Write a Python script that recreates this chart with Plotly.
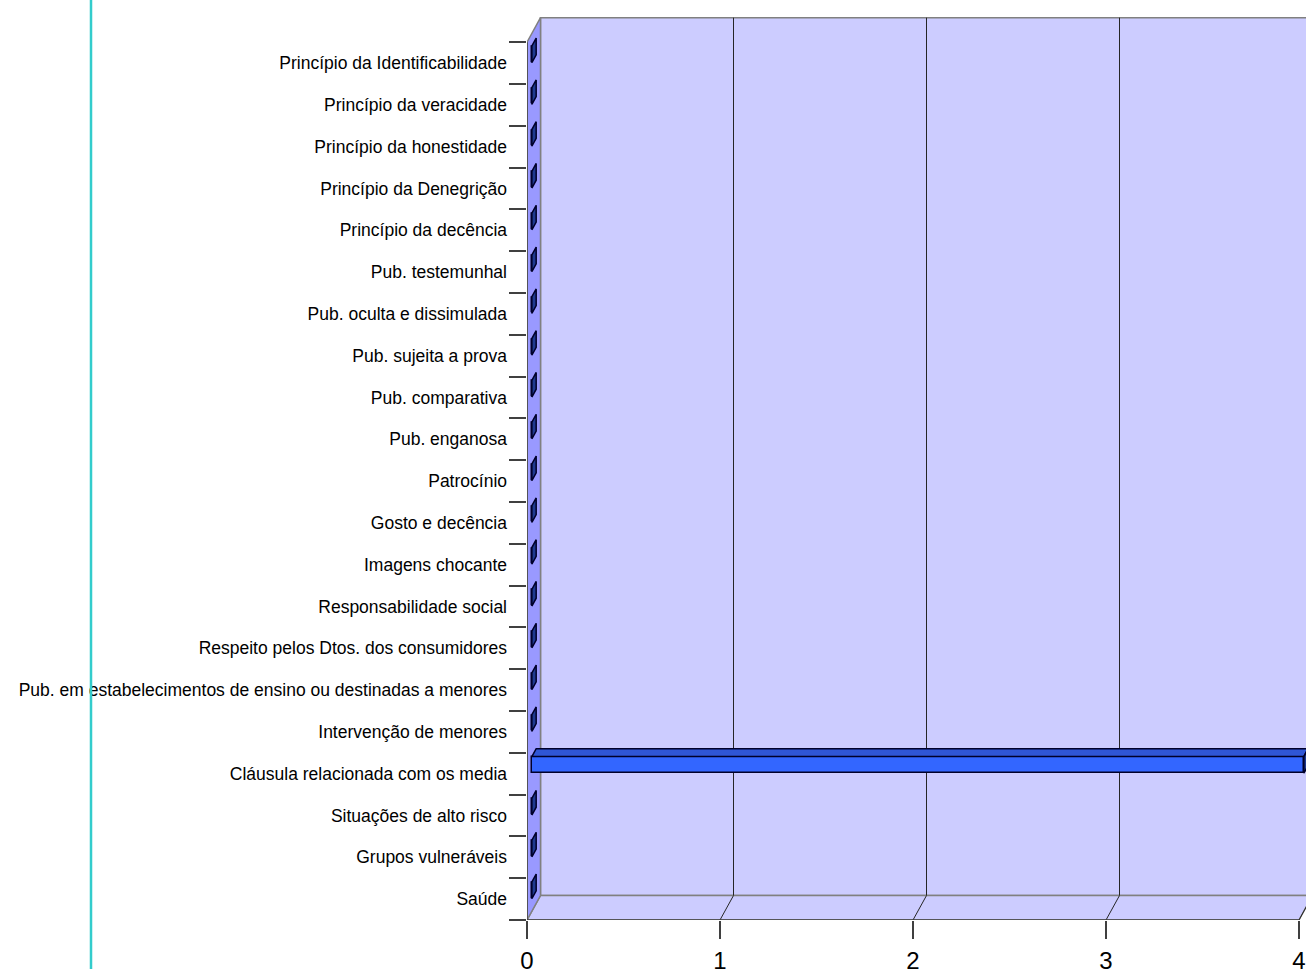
import plotly.graph_objects as go

# ---------------- data ----------------
categories = [
    "Saúde",
    "Grupos vulneráveis",
    "Situações de alto risco",
    "Cláusula relacionada com os media",
    "Intervenção de menores",
    "Pub. em estabelecimentos de ensino ou destinadas a menores",
    "Respeito pelos Dtos. dos consumidores",
    "Responsabilidade social",
    "Imagens chocante",
    "Gosto e decência",
    "Patrocínio",
    "Pub. enganosa",
    "Pub. comparativa",
    "Pub. sujeita a prova",
    "Pub. oculta e dissimulada",
    "Pub. testemunhal",
    "Princípio da decência",
    "Princípio da Denegrição",
    "Princípio da honestidade",
    "Princípio da veracidade",
    "Princípio da Identificabilidade",
]
values = [0, 0, 0, 4, 0, 0, 0, 0, 0, 0, 0, 0, 0, 0, 0, 0, 0, 0, 0, 0, 0]
x_ticks = [0, 1, 2, 3, 4]

# ---------------- geometry / style ----------------
W, H = 1306, 969
ML, MR, MT, MB = 527, 0, 0, 49
UX = 193.0          # px per value unit
UY = 41.8           # px per category
PW = W - ML - MR
PH = H - MT - MB
XMAX = max(x_ticks)
n = len(categories)
DX = 13.5 / UX      # depth offset (x) in data units
DY = 24.5 / UY      # depth offset (y) in data units
BW = 0.2            # half bar thickness
F1, F2 = 0.36, 0.68  # bar depth fractions

WALL = "#CCCCFF"
SIDE = "#9999FF"
EDGE = "#808080"
GRID = "#262626"
FRONT = "#3366FF"
TOP = "#2F56D6"
END = "#1F3A8F"
OUTL = "#00002A"
FONT = "Liberation Sans, Arial, sans-serif"

fig = go.Figure()

# front faces of bars
fig.add_trace(go.Bar(
    orientation="h",
    y=[i + F1 * DY for i in range(n)],
    x=values,
    base=F1 * DX,
    width=2 * BW,
    marker=dict(color=FRONT, line=dict(color=OUTL, width=1.5)),
    hoverinfo="skip",
    showlegend=False,
))

# top faces
tx, ty = [], []
for i, v in enumerate(values):
    if v > 0:
        yt = i + BW
        tx += [F1 * DX, v + F1 * DX, v + F2 * DX, F2 * DX, F1 * DX, None]
        ty += [yt + F1 * DY, yt + F1 * DY, yt + F2 * DY, yt + F2 * DY, yt + F1 * DY, None]
fig.add_trace(go.Scatter(x=tx, y=ty, mode="lines", fill="toself", fillcolor=TOP,
                         line=dict(color=OUTL, width=1.5), hoverinfo="skip", showlegend=False))

# end faces
ex, ey = [], []
for i, v in enumerate(values):
    ex += [v + F1 * DX, v + F1 * DX, v + F2 * DX, v + F2 * DX, v + F1 * DX, None]
    ey += [i - BW + F1 * DY, i + BW + F1 * DY, i + BW + F2 * DY, i - BW + F2 * DY, i - BW + F1 * DY, None]
fig.add_trace(go.Scatter(x=ex, y=ey, mode="lines", fill="toself", fillcolor=END,
                         line=dict(color=OUTL, width=1.5), hoverinfo="skip", showlegend=False))

ylo, yhi = -0.5, n - 0.5
shapes = []
# back wall
shapes.append(dict(type="rect", xref="x", yref="y", x0=DX, x1=XMAX + DX, y0=ylo + DY, y1=yhi + DY,
                   fillcolor=WALL, line=dict(color=EDGE, width=1.5), layer="below"))
# floor
shapes.append(dict(type="path", xref="x", yref="y",
                   path=f"M 0,{ylo} L {XMAX},{ylo} L {XMAX + DX},{ylo + DY} L {DX},{ylo + DY} Z",
                   fillcolor=WALL, line=dict(color=EDGE, width=1.5), layer="below"))
# side wall
shapes.append(dict(type="path", xref="x", yref="y",
                   path=f"M 0,{ylo} L 0,{yhi} L {DX},{yhi + DY} L {DX},{ylo + DY} Z",
                   fillcolor=SIDE, line=dict(color=EDGE, width=1.5), layer="below"))
# back wall grid lines
for k in x_ticks[1:-1]:
    shapes.append(dict(type="line", xref="x", yref="y", x0=k + DX, x1=k + DX, y0=ylo + DY, y1=yhi + DY,
                       line=dict(color=GRID, width=1), layer="below"))
# floor diagonals
for k in x_ticks[1:]:
    shapes.append(dict(type="line", xref="x", yref="y", x0=k, x1=k + DX, y0=ylo, y1=ylo + DY,
                       line=dict(color=GRID, width=1), layer="below"))
# front edges
shapes.append(dict(type="line", xref="x", yref="y", x0=0, x1=0, y0=ylo, y1=yhi,
                   line=dict(color="#404040", width=1.5), layer="below"))
shapes.append(dict(type="line", xref="x", yref="y", x0=0, x1=XMAX, y0=ylo, y1=ylo,
                   line=dict(color="#404040", width=1.5), layer="below"))
# cyan rule on the left
cx = (91 - ML) / PW
shapes.append(dict(type="line", xref="paper", yref="paper", x0=cx, x1=cx, y0=-0.2, y1=1.2,
                   line=dict(color="#33CCCC", width=2.5), layer="above"))

fig.update_layout(
    width=W, height=H,
    margin=dict(l=ML, r=MR, t=MT, b=MB, pad=0, autoexpand=False),
    paper_bgcolor="white", plot_bgcolor="white",
    showlegend=False,
    shapes=shapes,
    bargap=0,
    xaxis=dict(range=[0, PW / UX], tickvals=x_ticks, ticktext=[str(t) for t in x_ticks],
               ticks="outside", ticklen=18, tickwidth=1.5, tickcolor="#404040",
               tickfont=dict(family=FONT, size=24, color="black"), ticklabelstandoff=1,
               showgrid=False, zeroline=False, showline=False, fixedrange=True, automargin=False),
    yaxis=dict(range=[ylo, ylo + PH / UY], tickvals=list(range(n)), ticktext=categories,
               ticks="", tickfont=dict(family=FONT, size=17.5, color="black"), ticklabelstandoff=19,
               minor=dict(tickvals=[i - 0.5 for i in range(n + 1)], ticks="outside", ticklen=17,
                          tickwidth=1.5, tickcolor="#404040", showgrid=False),
               showgrid=False, zeroline=False, showline=False, fixedrange=True, automargin=False),
)

fig.write_html("out.html", config={"displayModeBar": False},
               post_script="document.body.style.margin='0';document.body.style.overflow='hidden';")
